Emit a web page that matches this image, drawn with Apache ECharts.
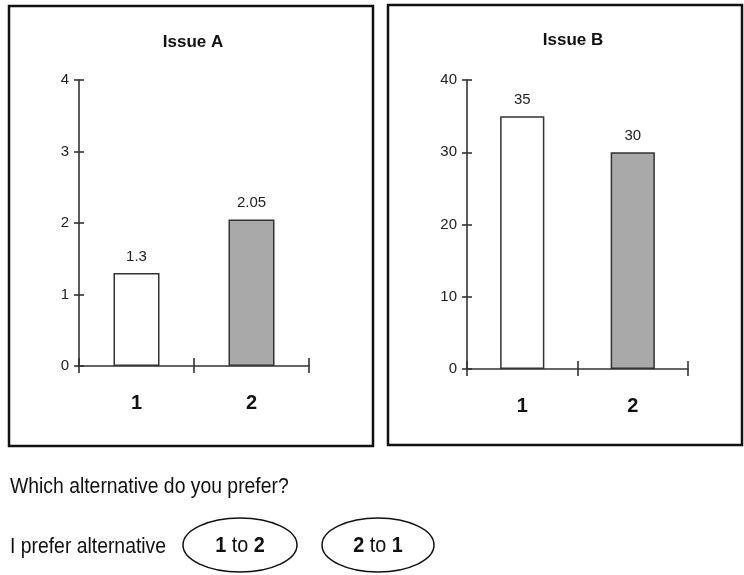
<!DOCTYPE html>
<html lang="en" style="height: 100%">
<head>
  <meta charset="utf-8">
</head>
<body style="height: 100%; margin: 0; background: #fff">
  <div id="container" style="width: 744px; height: 575px"></div>

  <script type="text/javascript" src="https://fastly.jsdelivr.net/npm/echarts@6.0.0/dist/echarts.min.js"></script>
  <script type="text/javascript">
    // chart data
    var categories = ['1', '2'];
    var issueAValues = [1.3, 2.05];
    var issueBValues = [35, 30];
    var issueAAxis = [0, 4, 1];    // min, max, interval
    var issueBAxis = [0, 40, 10];
    var barColors = ['#ffffff', '#a9a9a9'];

    var FONT = '"Liberation Sans", Arial, sans-serif';
    var INK = '#222';
    var LINE = '#333';

    var dom = document.getElementById('container');
    var myChart = echarts.init(dom, null, { renderer: 'canvas' });

    function barData(values) {
      return values.map(function (v, i) {
        return { value: v, itemStyle: { color: barColors[i] } };
      });
    }

    function xAxes(grid) {
      return [
        {
          gridIndex: grid,
          type: 'category',
          position: 'bottom',
          data: categories,
          axisLine: { show: true, lineStyle: { color: LINE, width: 1.6 } },
          axisTick: { show: true, alignWithLabel: false, interval: 0, length: 7, lineStyle: { color: LINE, width: 1.6 } },
          axisLabel: { fontSize: 20, fontWeight: 'bold', color: '#111', fontFamily: FONT, margin: 27 }
        },
        {
          // second axis only to make the ticks cross the line
          gridIndex: grid,
          type: 'category',
          position: 'bottom',
          data: categories,
          axisLine: { show: false },
          axisTick: { show: true, inside: true, alignWithLabel: false, interval: 0, length: 8, lineStyle: { color: LINE, width: 1.6 } },
          axisLabel: { show: false }
        }
      ];
    }

    function yAxes(grid, ax) {
      var base = {
        gridIndex: grid,
        type: 'value',
        position: 'left',
        min: ax[0],
        max: ax[1],
        interval: ax[2],
        splitLine: { show: false }
      };
      return [
        Object.assign({}, base, {
          axisLine: { show: true, lineStyle: { color: LINE, width: 1.6 } },
          axisTick: { show: true, length: 5, lineStyle: { color: LINE, width: 1.6 } },
          axisLabel: { fontSize: 15, color: INK, fontFamily: FONT, margin: 10 }
        }),
        Object.assign({}, base, {
          axisLine: { show: false },
          axisTick: { show: true, inside: true, length: 5, lineStyle: { color: LINE, width: 1.6 } },
          axisLabel: { show: false }
        })
      ];
    }

    function barSeries(x, y, values) {
      return {
        type: 'bar',
        xAxisIndex: x,
        yAxisIndex: y,
        barWidth: '40%',
        data: barData(values),
        itemStyle: { borderColor: LINE, borderWidth: 1.5 },
        label: { show: true, position: 'top', distance: 9, fontSize: 15, color: INK, fontFamily: FONT }
      };
    }

    var rich = { b: { fontWeight: 'bold', fontSize: 22, fontFamily: FONT, fill: '#111' } };

    var option = {
      animation: false,
      grid: [
        { left: 79, top: 80, width: 230, height: 286 },
        { left: 467, top: 80, width: 221, height: 289 }
      ],
      xAxis: xAxes(0).concat(xAxes(1)),
      yAxis: yAxes(0, issueAAxis).concat(yAxes(1, issueBAxis)),
      series: [
        barSeries(0, 0, issueAValues),
        barSeries(2, 2, issueBValues)
      ],
      graphic: [
        { type: 'rect', shape: { x: 9, y: 6, width: 364, height: 440 }, style: { fill: null, stroke: '#111', lineWidth: 2.5 } },
        { type: 'rect', shape: { x: 388, y: 5, width: 354, height: 440 }, style: { fill: null, stroke: '#111', lineWidth: 2.5 } },
        { type: 'text', x: 193, y: 42, style: { text: 'Issue A', font: 'bold 17px ' + FONT, fill: '#111', textAlign: 'center', textVerticalAlign: 'middle' } },
        { type: 'text', x: 573, y: 40, style: { text: 'Issue B', font: 'bold 17px ' + FONT, fill: '#111', textAlign: 'center', textVerticalAlign: 'middle' } },
        { type: 'text', x: 10, y: 487, scaleX: 0.88, style: { text: 'Which alternative do you prefer?', font: '22px ' + FONT, fill: '#111', textVerticalAlign: 'middle' } },
        { type: 'text', x: 10, y: 547, scaleX: 0.88, style: { text: 'I prefer alternative', font: '22px ' + FONT, fill: '#111', textVerticalAlign: 'middle' } },
        { type: 'ellipse', shape: { cx: 240, cy: 545, rx: 57, ry: 27 }, style: { fill: null, stroke: '#111', lineWidth: 1.5 } },
        { type: 'ellipse', shape: { cx: 378, cy: 545, rx: 56, ry: 27 }, style: { fill: null, stroke: '#111', lineWidth: 1.5 } },
        {
          type: 'text', x: 240, y: 546, scaleX: 0.9,
          style: { text: '{b|1} to {b|2}', font: '22px ' + FONT, fill: '#111', textAlign: 'center', textVerticalAlign: 'middle', rich: rich }
        },
        {
          type: 'text', x: 378, y: 546, scaleX: 0.9,
          style: { text: '{b|2} to {b|1}', font: '22px ' + FONT, fill: '#111', textAlign: 'center', textVerticalAlign: 'middle', rich: rich }
        }
      ]
    };

    myChart.setOption(option);
    window.addEventListener('resize', myChart.resize);
  </script>
</body>
</html>
